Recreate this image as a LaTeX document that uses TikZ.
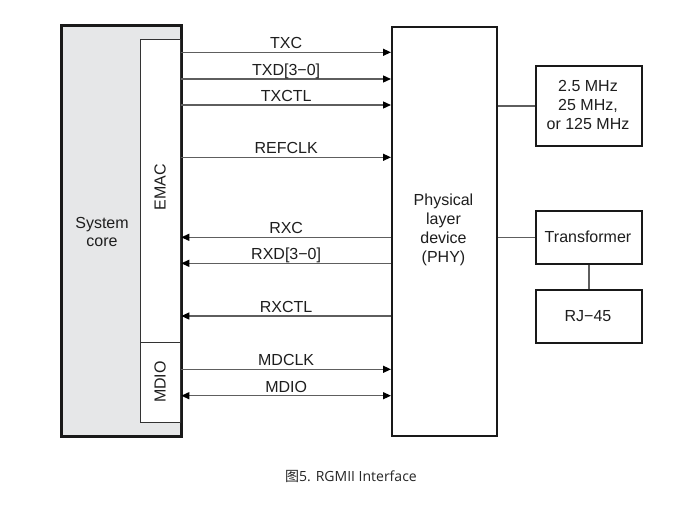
\documentclass[tikz,border=0pt]{standalone}
\usepackage{fontspec}
\setmainfont{Liberation Sans}
\newfontfamily\capfont{Open Sans}
\newfontfamily\cjk{Noto Sans CJK SC}
\usetikzlibrary{arrows.meta}
\definecolor{txtc}{HTML}{1E1E1E}
\definecolor{linec}{HTML}{5E5E5E}
\definecolor{corefill}{HTML}{E6E7E8}
\tikzset{
  box/.style={draw=black!90, line width=1.9pt, inner sep=0pt, anchor=north west},
  lbl/.style={text=txtc, font=\fontsize{16}{18.8}\selectfont, align=center},
  tip/.style={Triangle[length=8pt,width=7pt,fill=black,color=black]},
  sig/.style={draw=linec, line width=1.3pt, -{Triangle[length=8pt,width=7pt,color=black]}},
  bsig/.style={draw=linec, line width=1.3pt, {Triangle[length=8pt,width=7pt,color=black]}-{Triangle[length=8pt,width=7pt,color=black]}},
  plain/.style={draw=linec, line width=1.3pt},
  siglbl/.style={midway, anchor=base, yshift=3.5pt, inner sep=0pt, text=txtc, font=\fontsize{16}{18.8}\selectfont}
}
\begin{document}
\begin{tikzpicture}[x=1pt,y=1pt]
\useasboundingbox[fill=white] (0,0) rectangle (687,-509);
% boxes
\node[box, fill=corefill, minimum width=119pt, minimum height=410pt] (core) at (61,-25) {};
\node[box, fill=white, draw=black!80, line width=1.3pt, minimum width=40pt, minimum height=303pt] (emac) at (140,-39) {};
\node[box, fill=white, draw=black!80, line width=1.3pt, minimum width=40pt, minimum height=80pt] (mdio) at (140,-342) {};
\node[box, fill=white, minimum width=105pt, minimum height=409pt] (phy) at (391,-26) {};
\node[box, fill=white, minimum width=106pt, minimum height=80pt] (clk) at (535,-65) {};
\node[box, fill=white, minimum width=106pt, minimum height=53pt] (xfm) at (535,-210) {};
\node[box, fill=white, minimum width=106pt, minimum height=53pt] (rj) at (535,-289) {};
% redraw core border on top of inner boxes
\draw[black!90, line width=1.9pt] (core.north west) rectangle (core.south east);
% texts
\node[lbl] (coretxt) at (102,-232) {System\\core};
\node[lbl, rotate=90] (emactxt) at (160,-187) {EMAC};
\node[lbl, rotate=90] (mdiotxt) at (160,-382) {MDIO};
\node[lbl] (phytxt) at (443.5,-230) {Physical\\layer\\device\\(PHY)};
\node[lbl] (clktxt) at (588,-105) {2.5 MHz\\25 MHz,\\or 125 MHz};
\node[lbl] (xfmtxt) at (588,-237) {Transformer};
\node[lbl] (rjtxt) at (588,-316) {RJ−45};
% signal rows
\coordinate (ytxc) at (0,-52.3);
\coordinate (ytxd) at (0,-79);
\coordinate (ytxctl) at (0,-105);
\coordinate (yref) at (0,-157.3);
\coordinate (yrxc) at (0,-237.3);
\coordinate (yrxd) at (0,-263.3);
\coordinate (yrxctl) at (0,-316);
\coordinate (ymdclk) at (0,-369.3);
\coordinate (ymdio) at (0,-395.7);
\draw[sig] (emac.east |- ytxc) -- (phy.west |- ytxc) node[siglbl] {TXC};
\draw[sig] (emac.east |- ytxd) -- (phy.west |- ytxd) node[siglbl] {TXD[3−0]};
\draw[sig] (emac.east |- ytxctl) -- (phy.west |- ytxctl) node[siglbl] {TXCTL};
\draw[sig] (emac.east |- yref) -- (phy.west |- yref) node[siglbl] {REFCLK};
\draw[sig] (phy.west |- yrxc) -- (emac.east |- yrxc) node[siglbl] {RXC};
\draw[sig] (phy.west |- yrxd) -- (emac.east |- yrxd) node[siglbl] {RXD[3−0]};
\draw[sig] (phy.west |- yrxctl) -- (emac.east |- yrxctl) node[siglbl] {RXCTL};
\draw[sig] (mdio.east |- ymdclk) -- (phy.west |- ymdclk) node[siglbl] {MDCLK};
\draw[bsig] (mdio.east |- ymdio) -- (phy.west |- ymdio) node[siglbl] {MDIO};
% right connections
\draw[plain] (phy.east |- clk.west) -- (clk.west);
\draw[plain] (phy.east |- xfm.west) -- (xfm.west);
\draw[plain] (xfm.south) -- (rj.north);
% caption
\node[text=black!85, font=\fontsize{14}{16}\selectfont, inner sep=0pt] (cap) at (351,-476) {{\cjk 图}\capfont 5. RGMII Interface};
\end{tikzpicture}
\end{document}
